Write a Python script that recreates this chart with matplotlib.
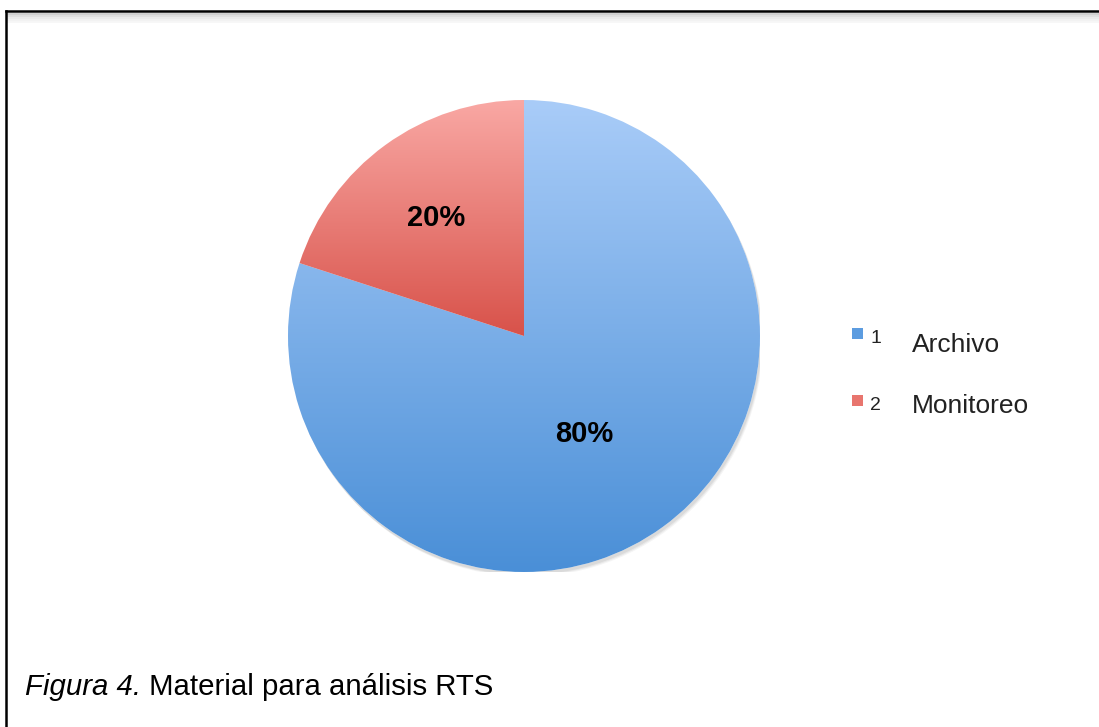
import numpy as np
import matplotlib
matplotlib.use("Agg")
import matplotlib.pyplot as plt
from matplotlib.colors import LinearSegmentedColormap
from matplotlib.patches import Rectangle, Circle
from matplotlib.lines import Line2D
from matplotlib.transforms import offset_copy

# ---- data ----
categories = ["Archivo", "Monitoreo"]
legend_ids = ["1", "2"]
values = [80, 20]
pct_labels = ["80%", "20%"]
caption_italic = "Figura 4."
caption_rest = " Material para análisis RTS"

# ---- styles ----
grad_colors = [("#a9ccf8", "#4a8fd7"), ("#f9a8a4", "#d8524a")]
legend_colors = ["#5c9ce0", "#e8756e"]
label_dist = [0.48, 0.635]
label_offset_px = [(-6, -6), (0, -3)]
FONT = "Liberation Sans"

W, H = 1099, 727
fig = plt.figure(figsize=(W / 100, H / 100), dpi=100)
fig.patch.set_facecolor("white")

def px(x, y):
    return x / W, 1 - y / H

# pie axes: center (524, 336), radius 236 px
cx, cy, r = 524, 336, 236
ax = fig.add_axes([(cx - r) / W, (H - cy - r) / H, 2 * r / W, 2 * r / H])
ax.set_xlim(-1, 1)
ax.set_ylim(-1, 1)
ax.set_aspect("equal")
ax.axis("off")

# soft shadow
for k, a in enumerate([0.06, 0.05, 0.04]):
    ax.add_patch(Circle((0.006 + 0.003 * k, -0.012 - 0.004 * k), 1.0,
                        facecolor="black", alpha=a, edgecolor="none", zorder=0))

wedges, _ = ax.pie(values, startangle=90, counterclock=False, radius=1,
                   colors=["none", "none"], wedgeprops=dict(edgecolor="none"))

for w, (c_top, c_bot), lab, d, off in zip(wedges, grad_colors, pct_labels,
                                          label_dist, label_offset_px):
    w.set_facecolor("white")
    w.set_zorder(1)
    path = w.get_path()
    verts = w.get_transform().transform(path.vertices)
    verts = ax.transData.inverted().transform(verts)
    ymin, ymax = verts[:, 1].min(), verts[:, 1].max()
    cmap = LinearSegmentedColormap.from_list("g", [c_bot, c_top])
    grad = np.linspace(0, 1, 256).reshape(-1, 1)
    im = ax.imshow(grad, extent=(-1.02, 1.02, ymin, ymax), origin="lower",
                   cmap=cmap, aspect="auto", zorder=2, interpolation="bilinear")
    im.set_clip_path(w)
    ang = np.deg2rad((w.theta1 + w.theta2) / 2)
    tr = offset_copy(ax.transData, fig=fig, x=off[0], y=off[1], units="dots")
    ax.text(d * np.cos(ang), d * np.sin(ang), lab, ha="center", va="center",
            fontsize=21, fontweight="bold", family=FONT, color="black",
            zorder=5, transform=tr)
ax.set_xlim(-1, 1)
ax.set_ylim(-1, 1)

# ---- legend (manual) ----
sq_top = [328, 395]
id_base = [343, 410]
name_base = [352, 413]
for col, lid, name, st, ib, nb in zip(legend_colors, legend_ids, categories,
                                     sq_top, id_base, name_base):
    x0, y0 = px(852, st + 11)
    fig.patches.append(Rectangle((x0, y0), 11 / W, 11 / H, transform=fig.transFigure,
                                 facecolor=col, edgecolor="none"))
    fig.text(*px(870, ib), lid, fontsize=14, family=FONT, ha="left",
             va="baseline", color="#222222")
    fig.text(*px(912, nb), name, fontsize=19, family=FONT, ha="left",
             va="baseline", color="#222222")

# ---- caption ----
cap_base = 695
t = fig.text(*px(25, cap_base), caption_italic, fontsize=21.2, family=FONT,
             style="italic", ha="left", va="baseline", color="black")
fig.canvas.draw()
bb = t.get_window_extent()
fig.text(bb.x1 / W, 1 - cap_base / H, caption_rest, fontsize=21.2, family=FONT,
         ha="left", va="baseline", color="black")

# ---- frame ----
for k, a in enumerate([0.18, 0.12, 0.08, 0.05, 0.03]):
    yy = 13.5 + k * 2
    fig.lines.append(Line2D([px(8, yy)[0], 1], [px(8, yy)[1]] * 2,
                            transform=fig.transFigure, color="black", alpha=a, lw=1.5))
fig.lines.append(Line2D([px(6, 11)[0], 1], [px(6, 11)[1]] * 2,
                        transform=fig.transFigure, color="black", lw=1.8))
fig.lines.append(Line2D([px(6, 11)[0]] * 2, [px(6, 11)[1], 0],
                        transform=fig.transFigure, color="black", lw=1.8))

fig.savefig("out.png", dpi=100, facecolor="white")
